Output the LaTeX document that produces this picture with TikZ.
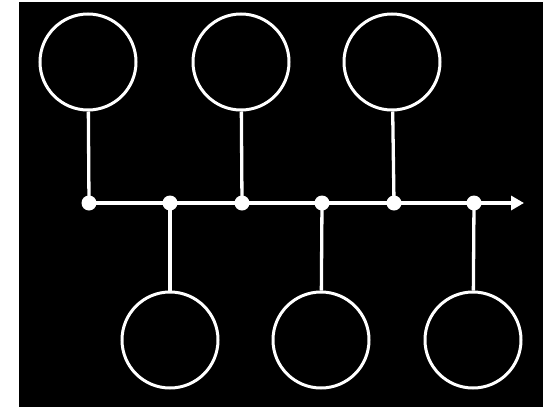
\documentclass[tikz,border=0pt]{standalone}
\usetikzlibrary{arrows.meta}
\begin{document}
\begin{tikzpicture}[x=1pt, y=-1pt,
  bubble/.style={draw=white, line width=3pt, circle, minimum size=96pt, inner sep=0pt},
  dot/.style={fill=white, circle, minimum size=15pt, inner sep=0pt},
  stem/.style={draw=white, line width=3.3pt}]
  \useasboundingbox (0,0) rectangle (543,407);
  \fill[black] (19,2) rectangle (543,407);
  % dots on the time line
  \node[dot] (d1) at (89,203) {};
  \node[dot] (d2) at (170,203) {};
  \node[dot] (d3) at (242,203) {};
  \node[dot] (d4) at (322,203) {};
  \node[dot] (d5) at (394,203) {};
  \node[dot] (d6) at (474,203) {};
  \coordinate (tip) at (524,203);
  % bubbles above and below
  \node[bubble] (t1) at (88,62) {};
  \node[bubble] (t2) at (241,62) {};
  \node[bubble] (t3) at (392,62) {};
  \node[bubble] (b1) at (170,340) {};
  \node[bubble] (b2) at (321,340) {};
  \node[bubble] (b3) at (473,340) {};
  % time line and stems
  \draw[stem, -{Triangle[length=13pt,width=14pt]}] (d1.center) -- (tip);
  \draw[stem] (t1) -- (d1.center);
  \draw[stem] (t2) -- (d3.center);
  \draw[stem] (t3) -- (d5.center);
  \draw[stem] (b1) -- (d2.center);
  \draw[stem] (b2) -- (d4.center);
  \draw[stem] (b3) -- (d6.center);
\end{tikzpicture}
\end{document}
